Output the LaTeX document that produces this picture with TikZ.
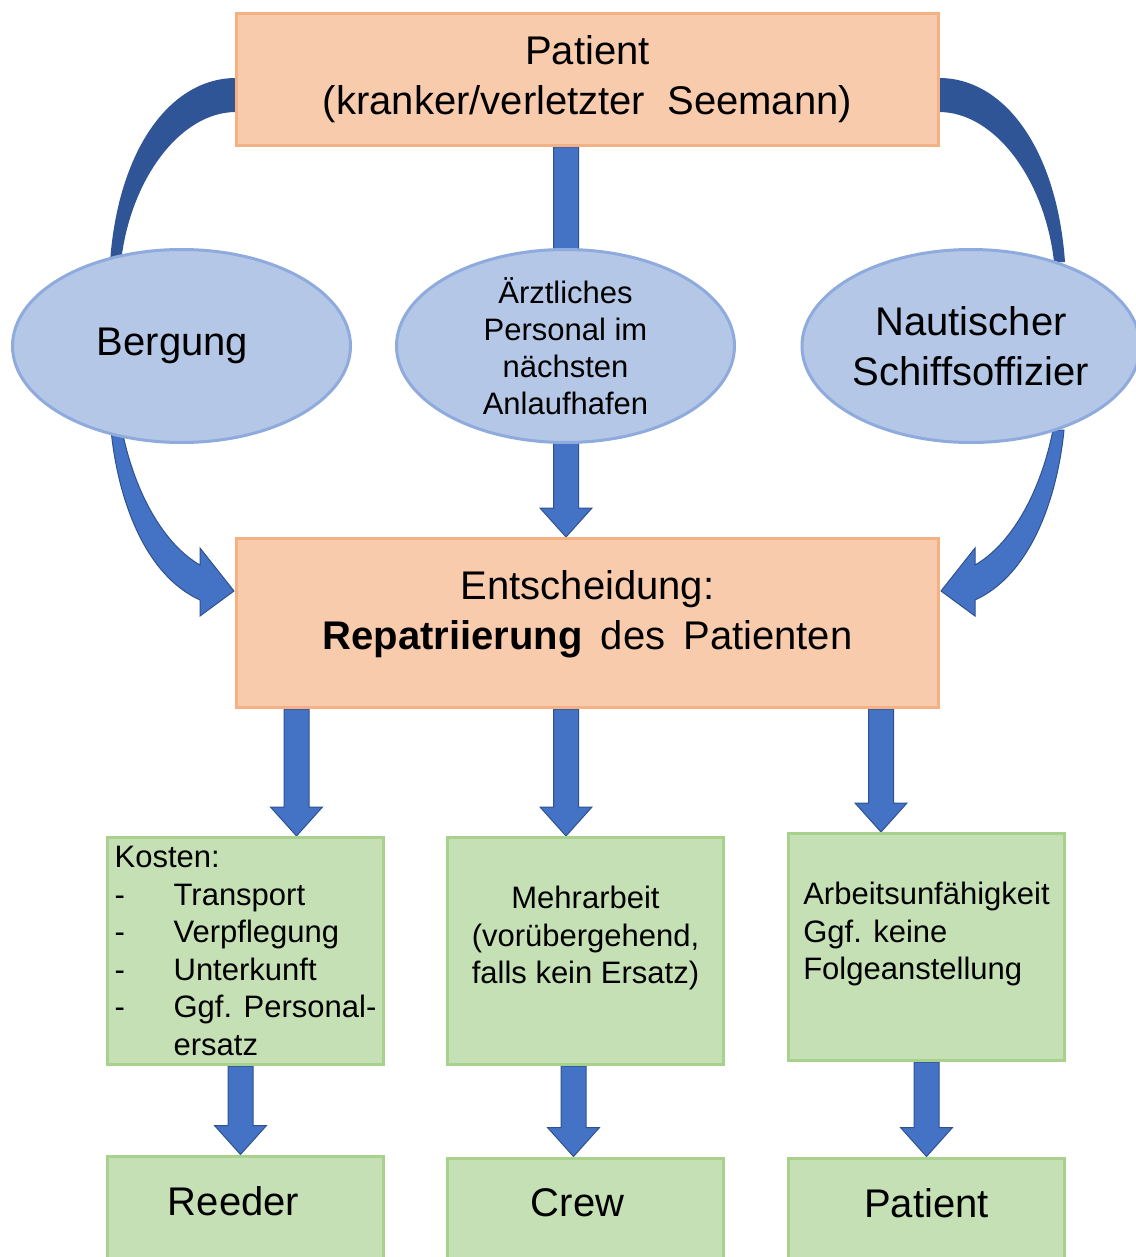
\documentclass[tikz,border=0pt]{standalone}
\usepackage{fontspec}
\setmainfont{Liberation Sans}
\usetikzlibrary{shapes.geometric,calc,backgrounds}

\definecolor{peachfill}{HTML}{F8CBAD}
\definecolor{peachline}{HTML}{F4B183}
\definecolor{bluefill}{HTML}{B4C7E7}
\definecolor{blueline}{HTML}{8FAADC}
\definecolor{greenfill}{HTML}{C5E0B4}
\definecolor{greenline}{HTML}{A9D18E}
\definecolor{arrowfill}{HTML}{4472C4}
\definecolor{arrowline}{HTML}{2F528F}
\definecolor{arrowdark}{HTML}{2F5597}

\tikzset{
  bigtxt/.style={font=\fontsize{40}{50}\selectfont},
  smalltxt/.style={font=\fontsize{31}{37.5}\selectfont},
  peachbox/.style={draw=peachline, fill=peachfill, line width=3pt, minimum width=702pt, inner sep=0pt, align=center, bigtxt},
  bluebubble/.style={ellipse, draw=blueline, fill=bluefill, line width=3pt, minimum width=338pt, minimum height=193pt, inner sep=0pt, align=center, bigtxt},
  greenbox/.style={draw=greenline, fill=greenfill, line width=3pt, minimum width=276pt, minimum height=227pt, inner sep=0pt, align=center, smalltxt},
  blockarrow/.style={fill=arrowfill, draw=arrowline, line width=1pt}
}

% straight block arrow: x from #1, tip at y of #2
\newcommand{\blockdown}[2]{%
  \filldraw[blockarrow] let \p1=(#1), \p2=(#2) in
    (\x1-12.5pt,\y1) -- (\x1+12.5pt,\y1) -- (\x1+12.5pt,\y2+29pt) -- (\x1+26pt,\y2+29pt)
    -- (\x1,\y2) -- (\x1-26pt,\y2+29pt) -- (\x1-12.5pt,\y2+29pt) -- cycle;}

% curved arrows, left side (mirrored for the right side)
\newcommand{\bowtop}{%
  \fill[arrowdark] (236,78) .. controls (170,78) and (118,150) .. (110,262)
    -- (121,262) .. controls (130,180) and (180,112) .. (236,112) -- cycle;}
\newcommand{\bowbottom}{%
  \filldraw[blockarrow] (111,430) .. controls (118,500) and (145,575) .. (200,600)
    -- (200,616) -- (234,591) -- (200,548) -- (200,565)
    .. controls (165,545) and (135,495) .. (122,430) -- cycle;}

\begin{document}
\begin{tikzpicture}[x=1pt,y=-1pt]
\useasboundingbox (0,0) rectangle (1135,1257);

%Shape: Rectangle top
\node[peachbox, minimum height=132pt] (top) at (587.5,79.5) {Patient\\(kranker/verletzter~ Seemann)};

%Shape: Ellipses
\node[bluebubble] (berg) at (181.5,346) {Bergung\hspace*{18pt}};
\node[bluebubble, font=\fontsize{31}{37}\selectfont, inner sep=-5pt] (arzt) at (565.5,346) {Ärztliches\\Personal im\\nächsten\\Anlaufhafen};
\node[bluebubble] (naut) at (971,346) {Nautischer\\Schiffsoffizier};

%Shape: Rectangle decision
\node[peachbox, minimum height=169pt] (dec) at (587.5,623) {Entscheidung:\\\textbf{Repatriierung}\hspace{7pt} des\hspace{7pt} Patienten\rule[-25pt]{0pt}{0pt}};

%Shape: Rectangles consequences
\node[greenbox, align=left] (kost) at (245.5,951) {Kosten:\\
  \makebox[59pt][l]{-}Transport\\
  \makebox[59pt][l]{-}Verpflegung\\
  \makebox[59pt][l]{-}Unterkunft\\
  \makebox[59pt][l]{-}Ggf. Personal-\\
  \hspace*{59pt}ersatz};
\node[greenbox] (mehr) at (585.5,951) {Mehrarbeit\\(vorübergehend,\\falls kein Ersatz)\rule[-32pt]{0pt}{0pt}};
\node[greenbox, align=left] (arb) at (926.5,947) {Arbeitsunfähigkeit\\Ggf. keine\\Folgeanstellung\rule[-32pt]{0pt}{0pt}};

%Shape: Rectangles bottom
\node[greenbox, bigtxt, minimum height=104pt] (reed) at (245.5,1208) {Reeder\rule[-14pt]{0pt}{0pt}\hspace*{24pt}};
\node[greenbox, bigtxt, minimum height=104pt] (crew) at (585.5,1210) {Crew\rule[-14pt]{0pt}{0pt}\hspace*{16pt}};
\node[greenbox, bigtxt, minimum height=104pt] (pat) at (926.5,1210) {Patient\rule[-14pt]{0pt}{0pt}};

\begin{pgfonlayer}{background}
%Curved arrows
\bowtop
\bowbottom
\begin{scope}[xshift=1175pt,xscale=-1]
\bowtop
\bowbottom
\end{scope}
%Straight arrows
\blockdown{[xshift=-21.5pt]top.south}{dec.north}
\blockdown{[xshift=-291pt]dec.south}{kost.north}
\blockdown{[xshift=-21.5pt]dec.south}{mehr.north}
\blockdown{[xshift=293.5pt]dec.south}{arb.north}
\blockdown{[xshift=-5pt]kost.south}{reed.north}
\blockdown{[xshift=-12pt]mehr.south}{crew.north}
\blockdown{arb.south}{pat.north}
\end{pgfonlayer}

\end{tikzpicture}
\end{document}
